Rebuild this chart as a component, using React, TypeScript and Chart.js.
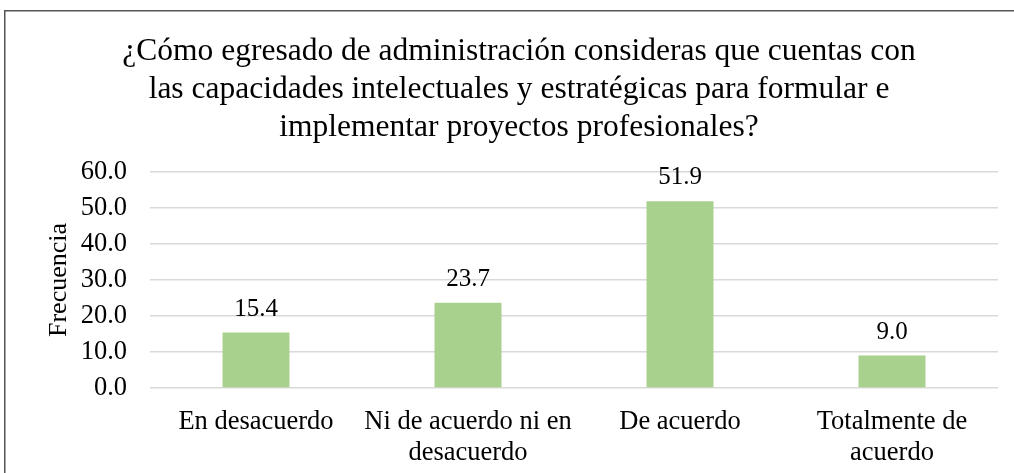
import React, { useEffect, useRef } from "react";
import { Chart, registerables } from "chart.js";

Chart.register(...registerables);

const titleLines = [
  "¿Cómo egresado de administración consideras que cuentas con",
  "las capacidades intelectuales y estratégicas para formular e",
  "implementar proyectos profesionales?",
];
const categories = [
  ["En desacuerdo"],
  ["Ni de acuerdo ni en", "desacuerdo"],
  ["De acuerdo"],
  ["Totalmente de", "acuerdo"],
];
const values = [15.4, 23.7, 51.9, 9.0];
const yTickLabels = ["0.0", "10.0", "20.0", "30.0", "40.0", "50.0", "60.0"];
const yAxisTitle = "Frecuencia";

const FONT = "'Liberation Serif', 'Times New Roman', serif";

const valueLabels = {
  id: "valueLabels",
  afterDatasetsDraw(chart: any) {
    const ctx = chart.ctx;
    const meta = chart.getDatasetMeta(0);
    ctx.save();
    ctx.font = `25px ${FONT}`;
    ctx.fillStyle = "#000";
    ctx.textAlign = "center";
    ctx.textBaseline = "alphabetic";
    meta.data.forEach((bar: any, i: number) => {
      const v = chart.data.datasets[0].data[i] as number;
      ctx.fillText(v.toFixed(1), bar.x, bar.y - 17);
    });
    ctx.restore();
  },
};

const frame = {
  id: "frame",
  beforeDraw(chart: any) {
    const ctx = chart.ctx;
    ctx.save();
    ctx.fillStyle = "#fff";
    ctx.fillRect(0, 0, chart.width, chart.height);
    ctx.strokeStyle = "#555";
    ctx.lineWidth = 1.5;
    ctx.beginPath();
    ctx.moveTo(chart.width, 10.75);
    ctx.lineTo(4.75, 10.75);
    ctx.lineTo(4.75, chart.height);
    ctx.stroke();
    ctx.restore();
  },
};

export default function App() {
  const ref = useRef<HTMLCanvasElement>(null);
  useEffect(() => {
    document.body.style.margin = "0";
    const chart = new Chart(ref.current!, {
      type: "bar",
      data: {
        labels: categories,
        datasets: [
          {
            data: values,
            backgroundColor: "#A9D18E",
            borderWidth: 0,
            barPercentage: 1,
            categoryPercentage: 0.316,
          },
        ],
      },
      options: {
        responsive: false,
        animation: false,
        layout: { padding: { left: 40, right: 16, top: 0, bottom: 0 } },
        plugins: {
          legend: { display: false },
          tooltip: { enabled: false },
          title: {
            display: true,
            text: titleLines,
            color: "#000",
            font: { family: FONT, size: 31.5, weight: "normal", lineHeight: 38 / 31.5 },
            padding: { top: 33, bottom: 25 },
          },
        },
        scales: {
          x: {
            grid: { display: false },
            border: { display: false },
            ticks: {
              color: "#000",
              font: { family: FONT, size: 26.5, lineHeight: 31 / 26.5 },
              padding: 11,
              maxRotation: 0,
              autoSkip: false,
            },
            afterFit: (s: any) => {
              s.height = 85;
            },
          },
          y: {
            min: 0,
            max: 60,
            border: { display: false },
            grid: { color: "#D9D9D9", lineWidth: 1.5, drawTicks: false },
            ticks: {
              stepSize: 10,
              color: "#000",
              font: { family: FONT, size: 26.5 },
              padding: 23,
              callback: (_v: any, i: number) => yTickLabels[i],
            },
            title: {
              display: true,
              text: yAxisTitle,
              color: "#000",
              font: { family: FONT, size: 26 },
              padding: { top: 4, bottom: 0 },
            },
            afterFit: (s: any) => {
              s.width = 110;
            },
          },
        },
      },
      plugins: [frame, valueLabels],
    });
    return () => chart.destroy();
  }, []);

  return (
    <div
      style={{
        position: "absolute",
        left: 0,
        top: 0,
        width: 1014,
        height: 473,
        background: "#fff",
        overflow: "hidden",
      }}
    >
      <canvas ref={ref} width={1014} height={473} style={{ position: "absolute", left: 0, top: 0 }} />
    </div>
  );
}
